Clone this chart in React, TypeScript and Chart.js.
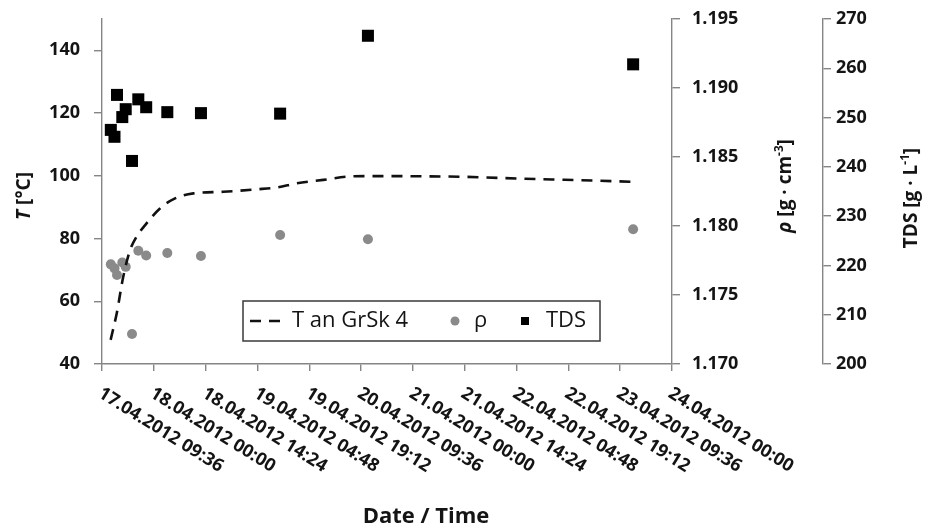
import React, { useEffect, useRef } from 'react';
import { Chart, registerables } from 'chart.js';

Chart.register(...registerables);

// x values are hours elapsed since 17.04.2012 09:36
const xTickLabels = [
  '17.04.2012 09:36', '18.04.2012 00:00', '18.04.2012 14:24', '19.04.2012 04:48',
  '19.04.2012 19:12', '20.04.2012 09:36', '21.04.2012 00:00', '21.04.2012 14:24',
  '22.04.2012 04:48', '22.04.2012 19:12', '23.04.2012 09:36', '24.04.2012 00:00',
];
const xTickStepHours = 14.4;
const xMaxHours = 158.4;

// T an GrSk 4 (dashed curve)
const tempHours = [2.4, 4.1, 5.9, 7.8, 9.6, 12.0, 16.1, 20.3, 25.4, 33.7, 43.0, 48.6, 54.1, 61.5, 68.9, 74.5, 99.5, 116.2, 132.9, 147.6];
const tempValues = [47.7, 56.2, 67.8, 76.3, 80.6, 84.3, 89.6, 92.8, 94.4, 94.9, 95.7, 96.3, 97.6, 98.7, 99.8, 99.9, 99.7, 99.1, 98.6, 98.1];

// samples (rho and TDS)
const sampleHours = [2.45, 3.47, 4.17, 5.64, 6.59, 8.34, 10.09, 12.28, 18.15, 27.5, 49.5, 73.9, 147.6];
const rhoValues = [1.17722, 1.17693, 1.17645, 1.17736, 1.17704, 1.17217, 1.17821, 1.17786, 1.17804, 1.17783, 1.17935, 1.17904, 1.17976];
const tdsValues = [247.5, 246.1, 254.6, 250.1, 251.7, 241.2, 253.7, 252.1, 251.1, 250.9, 250.8, 266.6, 260.8];

const FAMILY = '"Open Sans", "DejaVu Sans", sans-serif';
const AXIS_COLOR = '#858585';
const TEXT_COLOR = '#141414';
const RHO_COLOR = '#8a8a8a';

const fontStr = (size: number, weight = 'bold', style = 'normal') => `${style} ${weight} ${size}px ${FAMILY}`;

type Seg = { t: string; italic?: boolean; sup?: boolean };

function drawVerticalRich(ctx: CanvasRenderingContext2D, segs: Seg[], cx: number, cy: number, size: number) {
  ctx.save();
  ctx.translate(cx, cy);
  ctx.rotate(-Math.PI / 2);
  const parts = segs.map((s) => {
    const sz = s.sup ? size * 0.62 : size;
    const f = fontStr(sz, 'bold', s.italic ? 'italic' : 'normal');
    ctx.font = f;
    return { ...s, f, w: ctx.measureText(s.t).width };
  });
  const total = parts.reduce((a, p) => a + p.w, 0);
  let x = -total / 2;
  ctx.textAlign = 'left';
  ctx.textBaseline = 'alphabetic';
  ctx.fillStyle = TEXT_COLOR;
  const base = size * 0.36;
  for (const p of parts) {
    ctx.font = p.f;
    ctx.fillText(p.t, x, base + (p.sup ? -size * 0.42 : 0));
    x += p.w;
  }
  ctx.restore();
}

const decorPlugin = {
  id: 'decor',
  afterDraw(chart: any) {
    const ctx: CanvasRenderingContext2D = chart.ctx;
    const xs = chart.scales.x;
    const area = chart.chartArea;

    // rotated x tick labels
    ctx.save();
    ctx.font = fontStr(18);
    ctx.fillStyle = TEXT_COLOR;
    ctx.textAlign = 'left';
    ctx.textBaseline = 'middle';
    const angle = (32 * Math.PI) / 180;
    xTickLabels.forEach((lab, i) => {
      const px = xs.getPixelForValue(i * xTickStepHours);
      ctx.save();
      ctx.translate(px - 2, area.bottom + 28);
      ctx.rotate(angle);
      ctx.fillText(lab, 0, 0);
      ctx.restore();
    });
    ctx.restore();

    // x axis title
    ctx.save();
    ctx.font = fontStr(22);
    ctx.fillStyle = TEXT_COLOR;
    ctx.textAlign = 'center';
    ctx.textBaseline = 'alphabetic';
    ctx.fillText('Date / Time', 426, 523);
    ctx.restore();

    // y axis titles
    drawVerticalRich(ctx, [{ t: 'T', italic: true }, { t: ' [°C]' }], 23, 196, 19);
    drawVerticalRich(ctx, [{ t: 'ρ', italic: true }, { t: ' [g · cm' }, { t: '-3', sup: true }, { t: ']' }], 784, 186, 19);
    drawVerticalRich(ctx, [{ t: 'TDS [g · L' }, { t: '-1', sup: true }, { t: ']' }], 910, 198, 19);

    // legend
    const ds = chart.data.datasets;
    const bx = 243, by = 301, bw = 357, bh = 40;
    const cy = by + bh / 2;
    ctx.save();
    ctx.fillStyle = '#ffffff';
    ctx.fillRect(bx, by, bw, bh);
    ctx.strokeStyle = '#3a3a3a';
    ctx.lineWidth = 1.5;
    ctx.strokeRect(bx, by, bw, bh);
    // line symbol
    ctx.strokeStyle = '#111';
    ctx.lineWidth = 2.6;
    ctx.setLineDash([11, 8]);
    ctx.beginPath();
    ctx.moveTo(250, cy);
    ctx.lineTo(282, cy);
    ctx.stroke();
    ctx.setLineDash([]);
    ctx.font = fontStr(22, 'normal');
    ctx.fillStyle = TEXT_COLOR;
    ctx.textAlign = 'left';
    ctx.textBaseline = 'middle';
    ctx.fillText(ds[0].label, 292, cy);
    // circle
    ctx.fillStyle = RHO_COLOR;
    ctx.beginPath();
    ctx.arc(455, cy, 4.5, 0, Math.PI * 2);
    ctx.fill();
    ctx.fillStyle = TEXT_COLOR;
    ctx.fillText(ds[1].label, 474, cy);
    // square
    ctx.fillStyle = '#000';
    ctx.fillRect(521, cy - 4, 8, 8);
    ctx.fillStyle = TEXT_COLOR;
    ctx.fillText(ds[2].label, 546, cy);
    ctx.restore();
  },
};

export default function App() {
  const ref = useRef<HTMLCanvasElement | null>(null);

  useEffect(() => {
    document.body.style.margin = '0';
    const canvas = ref.current;
    if (!canvas) return;

    const tickFont = { family: FAMILY, size: 18, weight: 'bold' as const };
    const gridCommon = {
      drawOnChartArea: false,
      drawTicks: true,
      tickLength: 8,
      color: AXIS_COLOR,
      lineWidth: 1.4,
    };
    const borderCommon = { display: true, color: AXIS_COLOR, width: 1.4 };
    const fitY = (w: number) => (s: any) => {
      s.width = w;
      s.paddingTop = 0;
      s.paddingBottom = 0;
    };

    const chart = new Chart(canvas, {
      type: 'scatter',
      data: {
        datasets: [
          {
            label: 'T an GrSk 4',
            data: tempHours.map((h, i) => ({ x: h, y: tempValues[i] })),
            showLine: true,
            borderColor: '#111111',
            backgroundColor: '#111111',
            borderWidth: 2.6,
            borderDash: [11, 8],
            pointRadius: 0,
            cubicInterpolationMode: 'monotone',
            yAxisID: 'yT',
          } as any,
          {
            label: 'ρ',
            data: sampleHours.map((h, i) => ({ x: h, y: rhoValues[i] })),
            pointStyle: 'circle',
            pointRadius: 5,
            backgroundColor: RHO_COLOR,
            borderWidth: 0,
            yAxisID: 'yRho',
          },
          {
            label: 'TDS',
            data: sampleHours.map((h, i) => ({ x: h, y: tdsValues[i] })),
            pointStyle: 'rect',
            pointRadius: 8.5,
            backgroundColor: '#000000',
            borderWidth: 0,
            yAxisID: 'yTDS',
          },
        ],
      },
      options: {
        animation: false,
        responsive: false,
        devicePixelRatio: 1,
        layout: { padding: { top: 19, left: 0, right: 0, bottom: 0 } },
        plugins: {
          legend: { display: false },
          tooltip: { enabled: false },
        },
        scales: {
          x: {
            type: 'linear',
            position: 'bottom',
            min: 0,
            max: xMaxHours,
            ticks: { stepSize: xTickStepHours, display: false },
            grid: { ...gridCommon, tickLength: 7 },
            border: borderCommon,
            afterFit: (s: any) => { s.height = 164; },
          },
          yT: {
            type: 'linear',
            position: 'left',
            min: 40,
            max: 150,
            ticks: { stepSize: 20, includeBounds: false, padding: 14, font: tickFont, color: TEXT_COLOR },
            grid: gridCommon,
            border: borderCommon,
            afterFit: fitY(102),
          },
          yRho: {
            type: 'linear',
            position: 'right',
            min: 1.17,
            max: 1.195,
            ticks: {
              stepSize: 0.005,
              padding: 12,
              font: tickFont,
              color: TEXT_COLOR,
              callback: (v: any) => Number(v).toFixed(3),
            },
            grid: gridCommon,
            border: borderCommon,
            afterFit: fitY(151),
          },
          yTDS: {
            type: 'linear',
            position: 'right',
            min: 200,
            max: 270,
            ticks: { stepSize: 10, padding: 5, font: tickFont, color: TEXT_COLOR },
            grid: gridCommon,
            border: borderCommon,
            afterFit: fitY(107),
          },
        } as any,
      },
      plugins: [decorPlugin],
    });

    return () => chart.destroy();
  }, []);

  return (
    <div style={{ width: 930, height: 528 }}>
      <canvas ref={ref} width={930} height={528} style={{ display: 'block', width: 930, height: 528 }} />
    </div>
  );
}
